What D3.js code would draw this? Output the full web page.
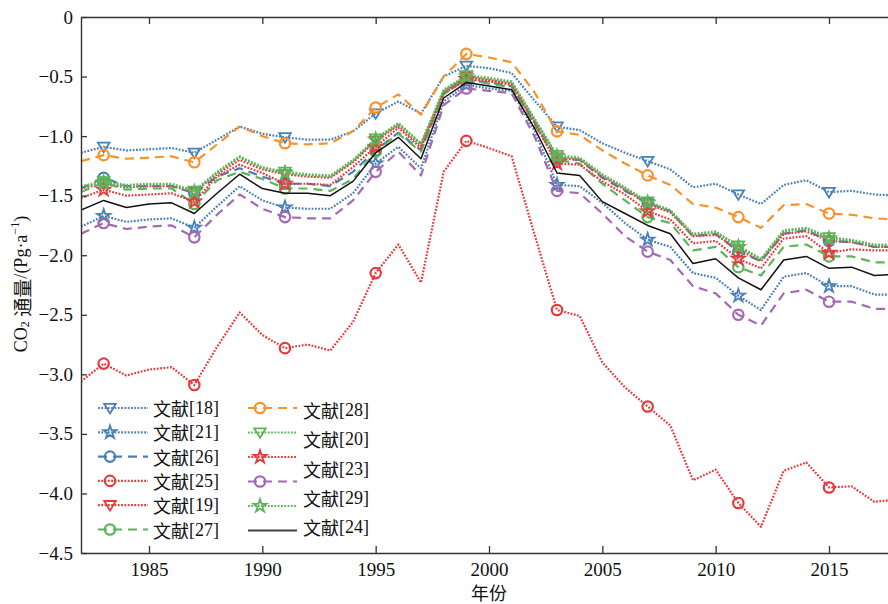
<!DOCTYPE html>
<html>
<head>
<meta charset="utf-8">
<script src="https://cdn.jsdelivr.net/npm/d3@7"></script>
<style>
  html, body { margin: 0; padding: 0; background: #fff; }
  svg { display: block; }
</style>
</head>
<body>
<svg id="chart" width="888" height="604"></svg>
<script>
// ---- data: annual CO2 flux estimates (Pg·a^-1), 1982–2018 ----
const years = [1982,1983,1984,1985,1986,1987,1988,1989,1990,1991,1992,1993,1994,1995,1996,1997,1998,1999,2000,
               2001,2002,2003,2004,2005,2006,2007,2008,2009,2010,2011,2012,2013,2014,2015,2016,2017,2018];
const markerYears = [1983,1987,1991,1995,1999,2003,2007,2011,2015];

const ref18 = [-1.14,-1.09,-1.12,-1.11,-1.10,-1.14,-1.03,-0.92,-0.98,-1.01,-1.03,-1.03,-0.96,-0.81,-0.71,-0.81,-0.50,-0.41,-0.43,
               -0.47,-0.70,-0.92,-0.95,-1.06,-1.14,-1.21,-1.28,-1.43,-1.40,-1.49,-1.57,-1.41,-1.37,-1.47,-1.46,-1.49,-1.50];
const ref21 = [-1.76,-1.67,-1.72,-1.70,-1.69,-1.77,-1.59,-1.42,-1.54,-1.60,-1.61,-1.61,-1.48,-1.23,-1.09,-1.27,-0.71,-0.57,-0.60,
               -0.62,-0.95,-1.41,-1.42,-1.56,-1.73,-1.87,-1.93,-2.15,-2.19,-2.34,-2.46,-2.18,-2.15,-2.26,-2.26,-2.33,-2.33];
const ref26 = [-1.44,-1.35,-1.42,-1.42,-1.42,-1.48,-1.34,-1.27,-1.34,-1.40,-1.40,-1.42,-1.30,-1.12,-0.97,-1.12,-0.64,-0.53,-0.55,
               -0.58,-0.88,-1.19,-1.20,-1.35,-1.46,-1.56,-1.63,-1.84,-1.82,-1.97,-2.05,-1.82,-1.79,-1.88,-1.89,-1.93,-1.93];
const ref25 = [-3.06,-2.91,-3.01,-2.96,-2.94,-3.09,-2.77,-2.48,-2.67,-2.78,-2.75,-2.80,-2.56,-2.15,-1.91,-2.23,-1.30,-1.04,-1.10,
               -1.17,-1.82,-2.46,-2.51,-2.90,-3.11,-3.27,-3.43,-3.89,-3.80,-4.08,-4.28,-3.81,-3.74,-3.95,-3.94,-4.07,-4.05];
const ref19 = [-1.44,-1.40,-1.43,-1.42,-1.42,-1.47,-1.32,-1.20,-1.28,-1.32,-1.34,-1.35,-1.22,-1.04,-0.91,-1.08,-0.63,-0.50,-0.53,
               -0.56,-0.87,-1.18,-1.20,-1.34,-1.45,-1.57,-1.64,-1.84,-1.83,-1.95,-2.05,-1.82,-1.80,-1.88,-1.89,-1.93,-1.93];
const ref27 = [-1.47,-1.39,-1.45,-1.44,-1.44,-1.57,-1.37,-1.30,-1.36,-1.44,-1.44,-1.46,-1.36,-1.13,-0.98,-1.13,-0.65,-0.52,-0.56,
               -0.59,-0.90,-1.20,-1.23,-1.40,-1.54,-1.68,-1.73,-1.96,-1.93,-2.10,-2.17,-1.93,-1.91,-2.01,-2.01,-2.06,-2.06];
const ref28 = [-1.21,-1.16,-1.19,-1.18,-1.17,-1.22,-1.07,-0.92,-1.00,-1.06,-1.07,-1.06,-0.96,-0.76,-0.65,-0.82,-0.50,-0.31,-0.34,
               -0.38,-0.63,-0.96,-0.99,-1.12,-1.23,-1.33,-1.41,-1.57,-1.60,-1.68,-1.77,-1.58,-1.57,-1.65,-1.66,-1.69,-1.70];
const ref20 = [-1.42,-1.38,-1.41,-1.40,-1.40,-1.46,-1.30,-1.17,-1.26,-1.30,-1.32,-1.33,-1.20,-1.02,-0.89,-1.06,-0.61,-0.49,-0.51,
               -0.54,-0.85,-1.16,-1.18,-1.32,-1.43,-1.55,-1.62,-1.82,-1.80,-1.92,-2.03,-1.79,-1.77,-1.85,-1.87,-1.91,-1.91];
const ref23 = [-1.52,-1.45,-1.50,-1.49,-1.48,-1.55,-1.34,-1.24,-1.31,-1.40,-1.40,-1.41,-1.26,-1.09,-0.93,-1.10,-0.64,-0.52,-0.54,
               -0.57,-0.89,-1.23,-1.24,-1.38,-1.49,-1.63,-1.70,-1.90,-1.88,-2.03,-2.11,-1.86,-1.84,-1.98,-1.95,-1.96,-1.96];
const refPurple = [-1.82,-1.73,-1.78,-1.76,-1.75,-1.85,-1.66,-1.49,-1.61,-1.68,-1.69,-1.69,-1.54,-1.30,-1.13,-1.33,-0.74,-0.60,-0.62,
               -0.64,-1.00,-1.46,-1.48,-1.65,-1.84,-1.97,-2.04,-2.26,-2.32,-2.50,-2.59,-2.32,-2.29,-2.39,-2.39,-2.45,-2.45];
const ref29 = [-1.43,-1.39,-1.42,-1.41,-1.41,-1.47,-1.31,-1.18,-1.27,-1.31,-1.33,-1.34,-1.21,-1.03,-0.90,-1.07,-0.62,-0.50,-0.52,
               -0.55,-0.86,-1.17,-1.19,-1.33,-1.44,-1.56,-1.63,-1.83,-1.81,-1.93,-2.04,-1.80,-1.78,-1.86,-1.88,-1.92,-1.92];
const ref24 = [-1.62,-1.54,-1.60,-1.57,-1.56,-1.65,-1.48,-1.32,-1.44,-1.48,-1.48,-1.50,-1.38,-1.14,-1.01,-1.19,-0.68,-0.55,-0.58,
               -0.61,-0.93,-1.31,-1.33,-1.55,-1.65,-1.75,-1.82,-2.07,-2.03,-2.19,-2.29,-2.04,-2.01,-2.11,-2.10,-2.17,-2.16];

const xTicks = [1985, 1990, 1995, 2000, 2005, 2010, 2015];
const yTicks = [0, -0.5, -1.0, -1.5, -2.0, -2.5, -3.0, -3.5, -4.0, -4.5];
const leftLegendLabels  = ["文献[18]", "文献[21]", "文献[26]", "文献[25]", "文献[19]", "文献[27]"];
const rightLegendLabels = ["文献[28]", "文献[20]", "文献[23]", "文献[29]", "文献[24]"];

// ---- styling ----
const SERIF = "'Liberation Serif', 'DejaVu Serif', 'Times New Roman', serif";
const CJK = "'Noto Sans CJK SC', 'Noto Sans CJK JP', sans-serif";
const C = { blue: "#4a80b6", red: "#e8393b", green: "#5db55a", orange: "#f8922a", purple: "#a468b6", black: "#111" };
const DOT = "1.8,1.5", DASH = "9,6";

// series in drawing order (legend column-major)
const series = [
  { values: ref18,     color: C.blue,   dash: DOT,  marker: "tri"    },
  { values: ref21,     color: C.blue,   dash: DOT,  marker: "star"   },
  { values: ref26,     color: C.blue,   dash: DASH, marker: "circle" },
  { values: ref25,     color: C.red,    dash: DOT,  marker: "circle" },
  { values: ref19,     color: C.red,    dash: DOT,  marker: "tri"    },
  { values: ref27,     color: C.green,  dash: DASH, marker: "circle" },
  { values: ref28,     color: C.orange, dash: DASH, marker: "circle" },
  { values: ref20,     color: C.green,  dash: DOT,  marker: "tri"    },
  { values: ref23,     color: C.red,    dash: DOT,  marker: "star"   },
  { values: refPurple, color: C.purple, dash: DASH, marker: "circle" },
  { values: ref29,     color: C.green,  dash: DOT,  marker: "star"   },
  { values: ref24,     color: C.black,  dash: null, marker: null     }
];

const svg = d3.select("#chart");
const m = { left: 81, top: 17, right: 897, bottom: 553 };

const x = d3.scaleLinear().domain([1982, 2018]).range([m.left, m.right]);
const y = d3.scaleLinear().domain([0, -4.5]).range([m.top, m.bottom]);

svg.append("defs").append("clipPath").attr("id", "plot")
  .append("rect").attr("x", m.left).attr("y", m.top - 8)
  .attr("width", m.right - m.left).attr("height", m.bottom - m.top + 8);

// ---- markers ----
const starPath = d3.symbol().type(d3.symbolStar).size(52)();
const triPath = "M0,5.4L-5.8,-4.2L5.8,-4.2Z";
function drawMarker(g, kind, color, cx, cy) {
  if (!kind) return;
  if (kind === "circle") {
    g.append("circle").attr("cx", cx).attr("cy", cy).attr("r", 5.2)
      .attr("fill", "none").attr("stroke", color).attr("stroke-width", 2.2);
  } else {
    g.append("path").attr("d", kind === "star" ? starPath : triPath)
      .attr("transform", `translate(${cx},${cy})`)
      .attr("fill", "none").attr("stroke", color).attr("stroke-width", 1.8)
      .attr("stroke-linejoin", "miter");
  }
}

// ---- lines ----
const line = d3.line().x((d, i) => x(years[i])).y(d => y(d));
const plot = svg.append("g").attr("clip-path", "url(#plot)");
series.forEach(s => {
  const g = plot.append("g");
  g.append("path").attr("d", line(s.values))
    .attr("fill", "none").attr("stroke", s.color)
    .attr("stroke-width", s.dash ? 2.2 : 1.5)
    .attr("stroke-dasharray", s.dash)
    .attr("stroke-linejoin", "round");
  markerYears.forEach(yr => {
    const i = years.indexOf(yr);
    drawMarker(g, s.marker, s.color, x(yr), y(s.values[i]));
  });
});

// ---- axes (ticks pointing inward) ----
const fmtY = v => v === 0 ? "0" : d3.format(".1f")(v);
const axisColor = "#333";
function styleAxis(g) {
  g.attr("font-family", null).attr("font-size", null);
  g.selectAll(".domain").attr("stroke", axisColor).attr("stroke-width", 1.4);
  g.selectAll(".tick line").attr("stroke", axisColor).attr("stroke-width", 1.3);
  g.selectAll("text").attr("fill", "#111")
    .style("font-family", SERIF).style("font-size", "19px");
}
svg.append("g").attr("transform", `translate(${m.left},0)`)
  .call(d3.axisLeft(y).tickValues(yTicks).tickFormat(fmtY).tickSizeInner(-6).tickSizeOuter(0).tickPadding(8))
  .call(styleAxis);
svg.append("g").attr("transform", `translate(0,${m.bottom})`)
  .call(d3.axisBottom(x).tickValues(xTicks).tickFormat(d3.format("d")).tickSizeInner(-7).tickSizeOuter(0).tickPadding(10))
  .call(styleAxis);
svg.append("g").attr("transform", `translate(0,${m.top})`)
  .call(d3.axisTop(x).tickValues(xTicks).tickFormat("").tickSizeInner(-7).tickSizeOuter(0))
  .call(styleAxis);
svg.append("g").attr("transform", `translate(${m.right},0)`)
  .call(d3.axisRight(y).tickValues(yTicks).tickFormat("").tickSizeInner(-6).tickSizeOuter(0))
  .call(styleAxis);

// ---- axis titles ----
svg.append("text").attr("x", (m.left + m.right) / 2).attr("y", 592)
  .attr("text-anchor", "middle").attr("dominant-baseline", "central").attr("fill", "#111")
  .style("font-size", "18px").style("font-family", CJK).text("年份");

const yt = svg.append("text").attr("transform", "translate(21,284) rotate(-90)")
  .attr("text-anchor", "middle").attr("dominant-baseline", "central").attr("fill", "#111")
  .style("font-size", "18px").style("font-family", SERIF);
yt.append("tspan").text("CO");
yt.append("tspan").style("font-size", "12px").attr("dy", 4).text("2");
yt.append("tspan").attr("dy", -4).text(" ");
yt.append("tspan").style("font-family", CJK).style("font-size", "19px").text("通量");
yt.append("tspan").text("/(Pg·a");
yt.append("tspan").style("font-size", "12px").attr("dy", -6).text("−1");
yt.append("tspan").attr("dy", 6).text(")");

// ---- legend ----
const leg = svg.append("g");
function legendSample(s, x0, x1, mx, yy) {
  const g = leg.append("g");
  g.append("line").attr("x1", x0).attr("x2", x1).attr("y1", yy).attr("y2", yy)
    .attr("stroke", s.color).attr("stroke-width", s.dash ? 2.2 : 2)
    .attr("stroke-dasharray", s.dash)
    .attr("stroke-opacity", s.dash ? 1 : 0.8);
  drawMarker(g, s.marker, s.color, mx, yy);
}
function legendLabel(txt, lx, ly) {
  const t = leg.append("text").attr("x", lx).attr("y", ly)
    .attr("dominant-baseline", "central").attr("fill", "#111")
    .style("font-size", "18px").style("font-family", SERIF);
  t.append("tspan").style("font-family", CJK).text(txt.slice(0, 2));
  t.append("tspan").text(txt.slice(2));
}
series.slice(0, 6).forEach((s, i) => {
  const yy = 408 + i * 24.3;
  legendSample(s, 98, 148, 110, yy);
  legendLabel(leftLegendLabels[i], 153, yy);
});
series.slice(6).forEach((s, i) => {
  legendSample(s, 248, 297, 260, 408 + i * 24.5);
});
rightLegendLabels.forEach((t, i) => legendLabel(t, 303, 410 + i * 29.3));
</script>
</body>
</html>
